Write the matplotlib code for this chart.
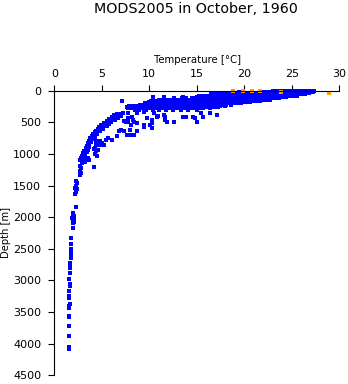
import matplotlib
matplotlib.use("Agg")
import matplotlib.pyplot as plt
import numpy as np

TITLE = "MODS2005 in October, 1960"
X_LABEL = "Temperature [°C]"
Y_LABEL = "Depth [m]"
X_TICKS = [0, 5, 10, 15, 20, 25, 30]
Y_TICKS = [0, 500, 1000, 1500, 2000, 2500, 3000, 3500, 4000, 4500]

BLUE = "#0000ff"
ORANGE = "#ffa500"

# upper mixed layer / thermocline: temperatures observed at each depth level (m)
ROW_0 = [23.0, 23.3, 23.6, 23.9, 24.2, 24.6, 24.9, 25.2, 25.5, 25.8, 26.2, 26.5, 26.8, 27.1, 27.3]
ROW_20 = [19.4, 22.0, 22.3, 22.6, 23.0, 23.3, 23.6, 23.9, 24.3, 24.6, 24.9, 25.2, 25.6, 25.9, 26.2, 26.5, 26.9, 27.2]
ROW_40 = [18.3, 18.6, 19.0, 19.3, 19.6, 19.9, 20.3, 20.6, 20.9, 21.2, 21.6, 21.9, 22.2, 22.5, 22.9, 23.2,
          23.5, 23.8, 24.2, 24.5, 24.8, 25.1, 25.5, 25.8, 26.1, 26.5, 26.8]
ROW_60 = [16.5, 16.8, 17.2, 17.5, 17.8, 18.1, 18.5, 18.8, 19.1, 19.4, 19.8, 20.1, 20.4, 20.7, 21.1, 21.4,
          21.7, 22.0, 22.4, 22.7, 23.0, 23.3, 23.7, 24.0, 24.3, 24.6, 25.0, 25.3, 25.6, 25.9, 26.2, 26.4]
ROW_80 = [15.2, 15.5, 15.9, 16.2, 16.5, 16.8, 17.2, 17.5, 17.8, 18.1, 18.5, 18.8, 19.1, 19.4, 19.8, 20.1,
          20.4, 20.7, 21.1, 21.4, 21.7, 22.0, 22.4, 22.7, 23.0, 23.3, 23.7, 24.0, 24.3, 24.6, 25.0, 25.3, 25.5]
ROW_100 = [10.4, 11.5, 13.6, 15.0, 15.3, 15.7, 16.0, 16.3, 16.6, 17.0, 17.3, 17.6, 17.9, 18.3, 18.6, 18.9,
           19.2, 19.6, 19.9, 20.2, 20.5, 20.9, 21.2, 21.5, 21.8, 22.2, 22.5, 22.8, 23.1, 23.5, 23.8, 24.1, 24.4]
ROW_120 = [12.6, 13.4, 13.9, 14.5, 14.8, 15.1, 15.5, 15.8, 16.1, 16.4, 16.8, 17.1, 17.4, 17.7, 18.1, 18.4,
           18.7, 19.0, 19.4, 19.7, 20.0, 20.3, 20.7, 21.0, 21.3, 21.6, 22.0, 22.3, 22.6, 22.9, 23.3, 23.6]
ROW_140 = [11.0, 11.4, 11.9, 12.3, 12.6, 13.0, 13.3, 13.6, 14.0, 14.3, 14.6, 14.9, 15.3, 15.6, 15.9, 16.2,
           16.6, 16.9, 17.2, 17.5, 17.9, 18.2, 18.5, 18.8, 19.2, 19.5, 19.8, 20.1, 20.5, 20.8, 21.1, 21.4,
           21.8, 22.1, 22.4, 22.7]
ROW_160 = [7.1, 10.2, 10.5, 10.9, 11.2, 11.5, 11.8, 12.2, 12.5, 12.8, 13.1, 13.5, 13.8, 14.1, 14.4, 14.8,
           15.1, 15.4, 15.7, 16.1, 16.4, 16.7, 17.0, 17.4, 17.7, 18.0, 18.3, 18.7, 19.0, 19.3, 19.6, 20.0,
           20.3, 20.6, 20.9, 21.3, 21.6]
ROW_180 = [10.0, 10.3, 10.7, 11.0, 11.3, 11.6, 12.0, 12.3, 12.6, 12.9, 13.3, 13.6, 13.9, 14.2, 14.6, 14.9,
           15.2, 15.5, 15.9, 16.2, 16.5, 16.8, 17.2, 17.5, 17.8, 18.1, 18.5, 18.8, 19.1, 19.4, 19.8, 20.1,
           20.4, 20.6]
ROW_200 = [9.5, 9.8, 10.2, 10.5, 10.8, 11.1, 11.5, 11.8, 12.1, 12.4, 12.8, 13.1, 13.4, 13.7, 14.1, 14.4,
           14.7, 15.0, 15.4, 15.7, 16.0, 16.3, 16.7, 17.0, 17.3, 17.6, 18.0, 18.3, 18.6, 18.9, 19.3, 19.6]
ROW_220 = [9.0, 9.3, 9.7, 10.0, 10.3, 10.6, 11.0, 11.3, 11.6, 11.9, 12.3, 12.6, 12.9, 13.2, 13.6, 13.9,
           14.2, 14.5, 14.9, 15.2, 15.5, 15.8, 16.2, 16.5, 16.8, 17.1, 17.5, 17.8, 18.1, 18.6]
ROW_240 = [7.9, 8.2, 8.6, 8.9, 9.2, 9.5, 9.9, 10.2, 10.5, 10.8, 11.2, 11.5, 11.8, 12.1, 12.5, 12.8,
           13.1, 13.4, 13.8, 14.1, 14.4, 14.7, 15.1, 15.4, 15.7, 16.0, 16.4, 16.7, 17.0, 17.4, 18.0]
ROW_260 = [7.7, 8.0, 8.4, 8.7, 9.0, 9.3, 9.7, 10.0, 10.3, 10.6, 11.0, 11.3, 11.6, 11.9, 12.3, 12.6,
           12.9, 13.2, 13.6, 13.9, 14.2, 14.5, 14.9, 15.2, 15.5, 15.8, 16.2, 16.5, 16.8, 17.2]
ROW_280 = [7.8, 8.1, 8.5, 8.8, 9.1, 9.4, 9.8, 10.1, 10.4, 10.7, 11.1, 11.4, 11.7, 12.0, 12.4, 12.7,
           13.0, 13.3, 13.7, 14.0, 14.3, 14.6, 15.0, 15.3, 15.7, 16.4]
ROW_300 = [8.5, 8.9, 9.6, 10.4, 11.0, 11.8, 12.5, 13.3, 14.1, 15.0]

ROW_DEPTHS = [0, 20, 40, 60, 80, 100, 120, 140, 160, 180, 200, 220, 240, 260, 280, 300]

# scattered casts below the thermocline band
SCATTER_T = [11.5, 11.7, 11.9, 12.6, 13.6, 14.8, 15.4, 15.7, 16.4, 17.1, 10.3, 10.3, 9.4, 8.7, 8.7,
             7.8, 8.0, 8.4, 7.7, 7.0, 6.8, 6.6, 6.1, 5.7, 5.4, 4.8, 5.2, 4.5, 8.7, 9.4, 9.8, 10.3,
             10.5, 10.8, 7.8, 8.2, 8.4, 7.5, 10.9, 11.7, 13.5, 13.9, 14.6, 15.0, 10.1, 9.4, 8.1, 7.8,
             8.1, 7.3, 7.3, 8.3, 4.6, 4.4]
SCATTER_D = [383, 462, 488, 488, 420, 435, 356, 409, 356, 383, 514, 593, 540, 514, 645,
             488, 619, 697, 697, 619, 645, 724, 776, 750, 776, 855, 855, 855, 356, 330, 435, 462,
             356, 409, 356, 409, 488, 488, 398, 422, 419, 419, 408, 488, 540, 567, 540, 430,
             698, 645, 472, 456, 840, 860]

# main profile curve from the thermocline down to ~1200 m
CURVE_T = [7.2, 6.9, 6.6, 6.3, 7.0, 6.5, 6.1, 6.7, 6.2, 5.8, 6.4, 5.9, 5.5, 6.0, 5.6, 5.2, 5.8, 5.3,
           4.9, 5.5, 5.0, 4.7, 5.1, 4.6, 4.4, 4.8, 4.3, 4.1, 4.5, 4.0, 4.3, 3.8, 4.0, 3.7, 3.9, 3.5,
           3.7, 3.4, 3.6, 3.3, 3.5, 3.1, 3.4, 3.0, 3.2, 2.9, 3.1, 2.8, 3.0, 2.7, 3.3, 3.5, 3.2, 2.9,
           3.6, 4.2, 4.4, 4.3, 4.5, 4.2, 4.4, 4.8, 5.0, 4.5, 4.3, 4.6, 4.4]
CURVE_D = [360, 370, 375, 380, 395, 405, 410, 430, 440, 445, 460, 470, 475, 490, 505, 510, 520, 535,
           545, 555, 570, 580, 600, 610, 630, 640, 660, 680, 690, 710, 730, 750, 770, 790, 810, 830,
           850, 870, 890, 910, 930, 950, 970, 990, 1010, 1030, 1050, 1070, 1090, 1100, 1080, 1060, 1120, 1140,
           1100, 920, 960, 1000, 1040, 1200, 790, 800, 830, 860, 900, 930, 960]

# deep water
DEEP_T = [2.7, 2.8, 2.7, 2.8, 2.7, 2.3, 2.4, 2.3, 2.2, 2.4, 2.3, 2.2, 2.25, 2.0, 1.95, 2.1, 1.9, 2.05,
          1.95, 2.1, 1.95, 1.95, 1.75, 1.75, 1.8, 1.8, 1.75, 1.78, 1.75, 1.68, 1.7, 1.68, 1.62, 1.68,
          1.6, 1.62, 1.65, 1.58, 1.5, 1.6, 1.62, 1.6, 1.6, 1.55, 1.55, 1.55, 1.6, 1.6, 1.6]
DEEP_D = [1185, 1230, 1270, 1300, 1330, 1430, 1460, 1500, 1540, 1560, 1600, 1640, 1837, 1935, 1960, 1984,
          2010, 2030, 2050, 2070, 2090, 2167, 2324, 2430, 2497, 2534, 2590, 2620, 2640, 2718, 2750, 2771,
          2797, 2876, 2981, 3060, 3086, 3165, 3244, 3270, 3375, 3410, 3428, 3559, 3585, 3727, 3885, 4058, 4085]

# flagged surface observations
FLAG_T = [18.8, 19.9, 20.8, 21.6, 23.9, 28.9]
FLAG_D = [0, 0, 5, 5, 20, 30]

rows = [ROW_0, ROW_20, ROW_40, ROW_60, ROW_80, ROW_100, ROW_120, ROW_140, ROW_160, ROW_180,
        ROW_200, ROW_220, ROW_240, ROW_260, ROW_280, ROW_300]
band_t = np.concatenate([np.asarray(r, float) for r in rows])
band_d = np.concatenate([np.full(len(r), d, float) for r, d in zip(rows, ROW_DEPTHS)])

temp = np.concatenate([band_t, SCATTER_T, CURVE_T, DEEP_T])
depth = np.concatenate([band_d, SCATTER_D, CURVE_D, DEEP_D])

W, H = 348, 384
fig = plt.figure(figsize=(W / 100, H / 100), dpi=100)
ax = fig.add_axes([54.3 / W, 1 - 375.3 / H, 285 / W, 284.6 / H])

mk = dict(marker="s", linestyle="none", markersize=2.5, markeredgewidth=0,
          clip_on=False, antialiased=False)
ax.plot(temp, depth, color=BLUE, **mk)
ax.plot(FLAG_T, FLAG_D, color=ORANGE, **mk)

ax.set_xlim(0, 30)
ax.set_ylim(4500, 0)
ax.xaxis.tick_top()
ax.set_xticks(X_TICKS)
ax.set_yticks(Y_TICKS)
ax.set_xticklabels([str(v) for v in X_TICKS])
ax.set_yticklabels([str(v) for v in Y_TICKS])

for side in ("right", "bottom"):
    ax.spines[side].set_visible(False)
for side in ("top", "left"):
    ax.spines[side].set_linewidth(0.8)
ax.tick_params(axis="both", direction="out", length=4, width=0.8, labelsize=8, colors="black")
ax.tick_params(axis="x", pad=4.5)
ax.tick_params(axis="y", pad=5.5)

fig.text(195.8 / W, 1 - 12.7 / H, TITLE, ha="center", va="baseline", fontsize=10.3)
fig.text(197.5 / W, 1 - 63 / H, X_LABEL, ha="center", va="baseline", fontsize=7.3)
fig.text(6 / W, 1 - 233 / H, Y_LABEL, ha="center", va="center", rotation=90, fontsize=7.2)

fig.savefig("out.png", dpi=100)
